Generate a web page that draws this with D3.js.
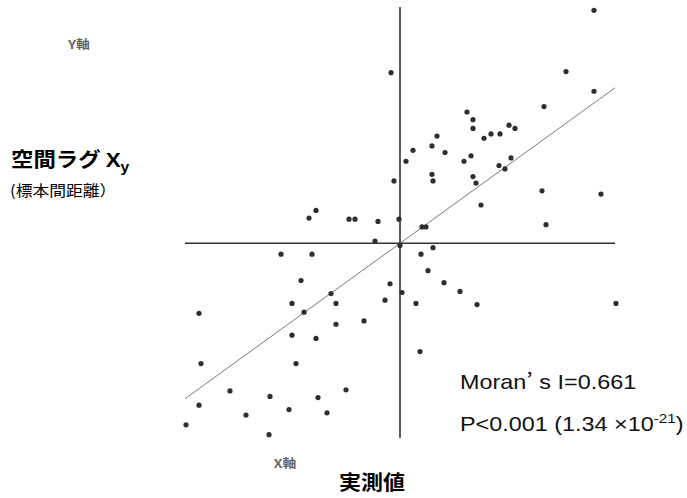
<!DOCTYPE html>
<html lang="ja">
<head>
<meta charset="utf-8">
<script src="https://cdn.jsdelivr.net/npm/d3@7/dist/d3.min.js"></script>
<style>
  body { margin: 0; background: #fff; }
  svg { display: block; }
  .jp { font-family: "Noto Sans CJK JP", sans-serif; }
  .lat { font-family: "Liberation Sans", Arial, sans-serif; }
</style>
</head>
<body>
<svg id="chart" width="687" height="498"></svg>
<script>
// standardized observed value (x) and spatial lag (y)
var obsX = [-0.09, 1.94, 1.66, 1.94, 1.44, 0.67, 0.73, 0.73, 1.09, 1.15,
  0.37, 0.32, 0.13, 0.06, 0.45, 0.84, 0.91, 1.00, 0.71, 0.64,
  1.11, 0.99, 1.05, 0.32, 0.33, 0.73, 0.76, 1.42, 2.01, 0.81,
  1.46, 0.22, 0.26, -0.01, -0.06, -0.91, -0.84, -0.51, -0.45, -0.22,
  -0.25, 0.33, 0.00, -1.19, -0.88, -0.99, -0.10, -0.69, -1.08, -0.64,
  -0.15, -2.01, -0.96, -0.64, -0.36, -1.08, -0.84, 0.21, 0.28, 0.44,
  0.60, 0.02, 0.16, 0.77, 2.16, 0.20, -1.99, -1.04, -1.70, -1.30,
  -0.82, -0.54, -2.01, -1.11, -1.54, -0.73, -2.14, -1.31];
var lagY = [1.56, 2.13, 1.57, 1.39, 1.25, 1.20, 1.13, 1.05, 1.08, 1.05,
  0.98, 0.89, 0.85, 0.75, 0.83, 0.96, 1.00, 1.00, 0.80, 0.75,
  0.78, 0.71, 0.68, 0.63, 0.57, 0.61, 0.55, 0.48, 0.45, 0.35,
  0.17, 0.15, 0.15, 0.22, 0.57, 0.23, 0.30, 0.22, 0.22, 0.20,
  0.02, -0.04, -0.02, -0.10, -0.10, -0.34, -0.37, -0.46, -0.55, -0.55,
  -0.52, -0.64, -0.63, -0.74, -0.71, -0.84, -0.87, -0.10, -0.25, -0.36,
  -0.44, -0.45, -0.55, -0.56, -0.55, -0.99, -1.10, -1.10, -1.35, -1.40,
  -1.41, -1.34, -1.48, -1.52, -1.57, -1.55, -1.66, -1.75];

var moranI = 0.661;
var xDomain = [-2.15, 2.15];
var yDomain = [-1.78, 2.16];

var svg = d3.select('#chart');

var x = d3.scaleLinear().domain(xDomain).range([185, 615]);
var y = d3.scaleLinear().domain(yDomain).range([438, 7]);

var data = obsX.map(function (v, i) { return { x: v, y: lagY[i] }; });

// axes through the origin
svg.append('line')
  .attr('x1', x(xDomain[0])).attr('x2', x(xDomain[1]))
  .attr('y1', y(0)).attr('y2', y(0))
  .attr('stroke', '#333').attr('stroke-width', 1.6);

svg.append('line')
  .attr('x1', x(0)).attr('x2', x(0))
  .attr('y1', y(yDomain[1])).attr('y2', y(yDomain[0]))
  .attr('stroke', '#333').attr('stroke-width', 1.6);

// regression line, slope = Moran's I
svg.append('line')
  .attr('x1', x(xDomain[0])).attr('y1', y(moranI * xDomain[0]))
  .attr('x2', x(xDomain[1])).attr('y2', y(moranI * xDomain[1]))
  .attr('stroke', '#7a7a7a').attr('stroke-width', 1);

svg.selectAll('.pt')
  .data(data)
  .enter().append('circle')
  .attr('class', 'pt')
  .attr('cx', function (d) { return x(d.x); })
  .attr('cy', function (d) { return y(d.y); })
  .attr('r', 2.6)
  .attr('fill', '#2e2e2e');

// text stretched a bit horizontally, like the source picture
function label(px, py, sx) {
  return svg.append('g')
    .attr('transform', 'translate(' + px + ',' + py + ') scale(' + sx + ',1)')
    .append('text');
}

label(79, 49, 1.15).attr('class', 'jp')
  .attr('text-anchor', 'middle')
  .attr('font-size', 12).attr('font-weight', 'bold')
  .attr('fill', '#666')
  .text('Y軸');

var yl = label(11, 167, 1.12).attr('class', 'jp')
  .attr('font-size', 20).attr('font-weight', 'bold')
  .attr('fill', '#000');
yl.append('tspan').text('空間ラグ ');
yl.append('tspan').attr('class', 'lat').text('X');
yl.append('tspan').attr('class', 'lat')
  .attr('font-size', 14).attr('dy', 5).text('y');

label(10, 196, 1.12).attr('class', 'jp')
  .attr('font-size', 15)
  .attr('fill', '#000')
  .text('(標本間距離）');

label(285, 468, 1.15).attr('class', 'jp')
  .attr('text-anchor', 'middle')
  .attr('font-size', 12).attr('font-weight', 'bold')
  .attr('fill', '#666')
  .text('X軸');

label(372, 490, 1.1).attr('class', 'jp')
  .attr('text-anchor', 'middle')
  .attr('font-size', 20).attr('font-weight', 'bold')
  .attr('fill', '#000')
  .text('実測値');

var m = label(460, 389, 1.17).attr('class', 'lat')
  .attr('font-size', 20).attr('fill', '#111');
m.append('tspan').text('Moran');
m.append('tspan').attr('class', 'jp').text('’');
m.append('tspan').text(' s I=' + moranI.toFixed(3));

var p = label(460, 431, 1.17).attr('class', 'lat')
  .attr('font-size', 20).attr('fill', '#111');
p.append('tspan').text('P<0.001 (1.34 \u00d710');
p.append('tspan').attr('font-size', 13).attr('dy', -8).text('-21');
p.append('tspan').attr('dy', 8).text(')');
</script>
</body>
</html>
